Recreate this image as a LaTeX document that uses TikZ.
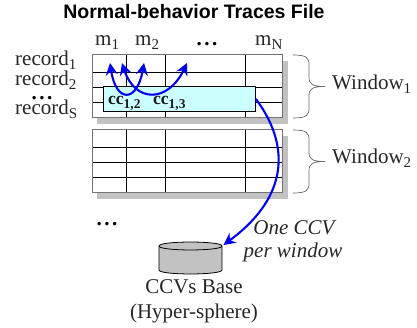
\documentclass[tikz,border=0pt]{standalone}
\usepackage{fontspec}
\setmainfont{Liberation Serif}
\newfontfamily\headfont{Liberation Sans}
\usetikzlibrary{arrows.meta,shapes.geometric}
\definecolor{shadowgray}{gray}{0.76}
\definecolor{cellcyan}{RGB}{204,255,255}
\definecolor{arrowblue}{RGB}{0,0,245}
\tikzset{
  x=1pt,y=-1pt,
  lbl/.style={inner sep=0pt,anchor=base west,font=\fontsize{21}{23}\selectfont,text=black!85},
  ctr/.style={inner sep=0pt,anchor=base,font=\fontsize{21}{23}\selectfont,text=black!85},
  ital/.style={ctr,font=\fontsize{21}{23}\selectfont\itshape},
  cclbl/.style={inner sep=0pt,anchor=base west,font=\bfseries\fontsize{17.5}{19}\selectfont,text=black!90},
  grid/.style={black,line width=0.8pt},
  frame/.style={draw=black!55,line width=1pt},
  flow/.style={draw=arrowblue,line width=2.1pt,-{Stealth[length=12pt,width=12pt]}},
  dflow/.style={draw=arrowblue,line width=2.1pt,{Stealth[length=12pt,width=12pt]}-{Stealth[length=12pt,width=12pt]}},
  bracepath/.style={draw=black!60,line width=0.7pt},
}
\newcommand{\tbl}[2]{%
  \fill[shadowgray] (97,#1+6) rectangle (288,#2+6);
  \fill[white] (92,#1) rectangle (282,#2);
  \foreach \yy in {17,32,47} \draw[grid] (92,#1+\yy) -- (282,#1+\yy);
  \foreach \xx in {126,165.5,245} \draw[grid] (\xx,#1) -- (\xx,#2);
  \draw[frame] (92,#1) rectangle (282,#2);
}
\newcommand{\winbrace}[2]{%
  \draw[bracepath] (293,#1) .. controls (307,#1) and (309,#1+3) .. (309,#1+10)
    -- (309,#1+22) .. controls (309,#1+29) and (312,#1+31.5) .. (325,#1+31.5)
    .. controls (312,#1+31.5) and (309,#1+34) .. (309,#1+41)
    -- (309,#1+53) .. controls (309,#1+60) and (307,#2) .. (293,#2);
}
\newcommand{\threedots}{\textbf{.\kern2.5pt.\kern2.5pt.}}
\newcommand{\subx}[1]{\raisebox{-4pt}{\fontsize{15}{16}\selectfont #1}}
\newcommand{\subcc}[1]{\raisebox{-4pt}{\fontsize{13.5}{15}\selectfont #1}}
\begin{document}
\begin{tikzpicture}
\useasboundingbox (0,0) rectangle (417,328);
\node[font=\headfont\bfseries\fontsize{19.5}{21}\selectfont,inner sep=0pt] (title) at (194,12) {Normal-behavior Traces File};
\node[lbl] (m1) at (95,46) {m\subx{1}};
\node[lbl] (m2) at (135,46) {m\subx{2}};
\node[inner sep=0pt,anchor=base,font=\fontsize{21}{23}\selectfont] (mdots) at (207,46) {\threedots};
\node[lbl] (mN) at (255,46) {m\subx{N}};
\node[lbl] (r1) at (15,66) {record\subx{1}};
\node[lbl] (r2) at (15,86) {record\subx{2}};
\node[inner sep=0pt,anchor=base,font=\fontsize{21}{23}\selectfont] (rdots) at (42,100) {\threedots};
\node[lbl] (rS) at (15,115) {record\subx{S}};
\tbl{55}{118}
\tbl{130}{193}
\winbrace{55}{118}
\winbrace{130}{193}
\node[lbl] (w1) at (332,90) {Window\subx{1}};
\node[lbl] (w2) at (332,164) {Window\subx{2}};
\node[draw=black,fill=cellcyan,line width=0.8pt,minimum width=152pt,minimum height=25pt,inner sep=0pt,anchor=north west] (cc) at (103,86) {};
\node[cclbl] (c12) at (108,105) {cc\subcc{1,2}};
\node[cclbl] (c13) at (153,105) {cc\subcc{1,3}};
\coordinate (a1) at (110,63);
\coordinate (a2) at (144,63);
\coordinate (b1) at (122,63);
\coordinate (b2) at (187,63);
\draw[dflow] (b1) .. controls (135,103) and (168,103) .. (b2);
\draw[dflow] (a1) .. controls (116,103) and (137,103) .. (a2);
\path[draw=black,fill=shadowgray,line width=0.8pt]
  (159,246) .. controls (159,240.7) and (222,240.7) .. (222,246)
  -- (222,270) .. controls (222,275.3) and (159,275.3) .. (159,270) -- cycle;
\draw[black,line width=0.8pt] (159,246) .. controls (159,251.3) and (222,251.3) .. (222,246);
\node[inner sep=0pt,minimum width=64pt,minimum height=28pt,anchor=north west] (db) at (159,245) {};
\draw[flow] (cc.east) .. controls (283,135) and (298,190) .. (db.north east);
\node[ital] (ccv1) at (294,235) {One CCV};
\node[ital] (ccv2) at (293,258) {per window};
\node[ctr] (base1) at (194,294) {CCVs Base};
\node[ctr] (base2) at (194,318) {(Hyper-sphere)};
\node[inner sep=0pt,anchor=base,font=\fontsize{21}{23}\selectfont] (bdots) at (107,226) {\threedots};
\end{tikzpicture}
\end{document}
